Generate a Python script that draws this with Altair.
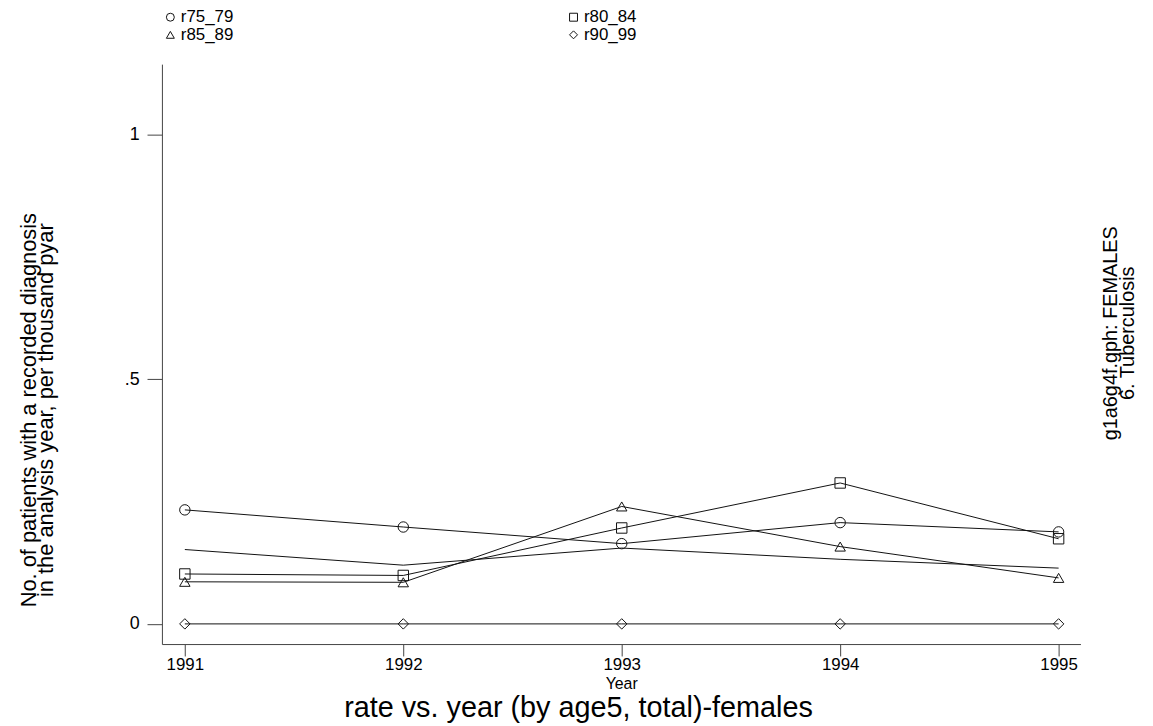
import altair as alt
import pandas as pd

years = [1991, 1992, 1993, 1994, 1995]
series_names = ["r75_79", "r80_84", "r85_89", "r90_99", "total"]
r75_79 = [0.233, 0.198, 0.164, 0.207, 0.188]
r80_84 = [0.102, 0.099, 0.196, 0.288, 0.174]
r85_89 = [0.086, 0.085, 0.240, 0.158, 0.094]
r90_99 = [0.0, 0.0, 0.0, 0.0, 0.0]
total = [0.152, 0.120, 0.155, 0.132, 0.114]

marker_series = ["r75_79", "r80_84", "r85_89", "r90_99"]
marker_shapes = ["circle", "square", "triangle-up", "diamond"]

y_title = ["No. of patients with a recorded diagnosis", "in the analysis year, per thousand pyar"]
right_title = ["g1a6g4f.gph: FEMALES", "6.  Tuberculosis"]
x_title = "Year"
main_title = "rate vs. year (by age5, total)-females"

values = {"r75_79": r75_79, "r80_84": r80_84, "r85_89": r85_89, "r90_99": r90_99, "total": total}
rows = []
for s in series_names:
    for yr, v in zip(years, values[s]):
        rows.append({"year": yr, "series": s, "rate": v})
df = pd.DataFrame(rows)

FONT = "Liberation Sans"
W, H = 925, 584
y_dom = [-0.0412, 1.144]
x_dom = [1990.895, 1995.1]
AX = "#444444"
INK = "#111111"

scale_x = alt.Scale(domain=x_dom, nice=False, zero=False)
scale_y = alt.Scale(domain=y_dom, nice=False, zero=False)

x_enc = alt.X(
    "year:Q",
    scale=scale_x,
    axis=alt.Axis(
        values=years, format="d", title=x_title, grid=False,
        domainColor=AX, tickColor=AX, tickSize=12, labelPadding=1,
        labelFontSize=17, labelColor="black", labelFont=FONT,
        titleFontSize=16, titleFontWeight="normal", titleFont=FONT, titleColor="black",
        titleY=45, titleBaseline="alphabetic",
    ),
)
y_enc = alt.Y(
    "rate:Q",
    scale=scale_y,
    axis=alt.Axis(
        values=[0, 0.5, 1], labelExpr="replace(format(datum.value, '~g'), '0.', '.')",
        title=y_title, grid=False, domainColor=AX, tickColor=AX, tickSize=15,
        labelPadding=8, labelFontSize=18, labelColor="black", labelFont=FONT,
        titleFontSize=22, titleFontWeight="normal", titleFont=FONT, titleColor="black",
        titleAngle=270, titleX=-134, titleY=348, titleAlign="center",
        titleBaseline="middle", titleLineHeight=17,
    ),
)

lines = alt.Chart(df).mark_line(color=INK, strokeWidth=1).encode(
    x=x_enc, y=y_enc, detail="series:N", order="year:Q"
)

points = alt.Chart(df).transform_filter(
    alt.FieldOneOfPredicate(field="series", oneOf=marker_series)
).mark_point(filled=False, color=INK, strokeWidth=1, opacity=1, size=110).encode(
    x=alt.X("year:Q", scale=scale_x),
    y=alt.Y("rate:Q", scale=scale_y),
    shape=alt.Shape(
        "series:N",
        scale=alt.Scale(domain=marker_series, range=marker_shapes),
        legend=alt.Legend(
            title=None, orient="top", direction="horizontal", columns=2, offset=21,
            columnPadding=334, rowPadding=0, symbolSize=64, symbolStrokeWidth=1,
            symbolStrokeColor=INK, labelFontSize=17, labelFont=FONT,
            labelColor="black", labelOffset=2,
        ),
    ),
)

side_text = alt.Chart(pd.DataFrame({"k": [0]})).mark_text(
    angle=270, align="center", baseline="middle", fontSize=20, lineHeight=17,
    font=FONT, color="black",
).encode(
    x=alt.value(W + 31), y=alt.value(271), text=alt.value(right_title)
)

chart = (
    alt.layer(lines, points, side_text)
    .properties(
        width=W,
        height=H,
        autosize=alt.AutoSizeParams(type="none"),
        padding={"left": 155, "top": 54, "right": 65, "bottom": 80},
        title=alt.TitleParams(
            main_title, orient="bottom", anchor="middle", dx=-43, offset=2,
            fontSize=29, fontWeight="normal", font=FONT, color="black",
        ),
        background="white",
    )
    .configure_view(stroke=None)
)

chart.save("out.html", embed_options={"renderer": "svg", "actions": False})
